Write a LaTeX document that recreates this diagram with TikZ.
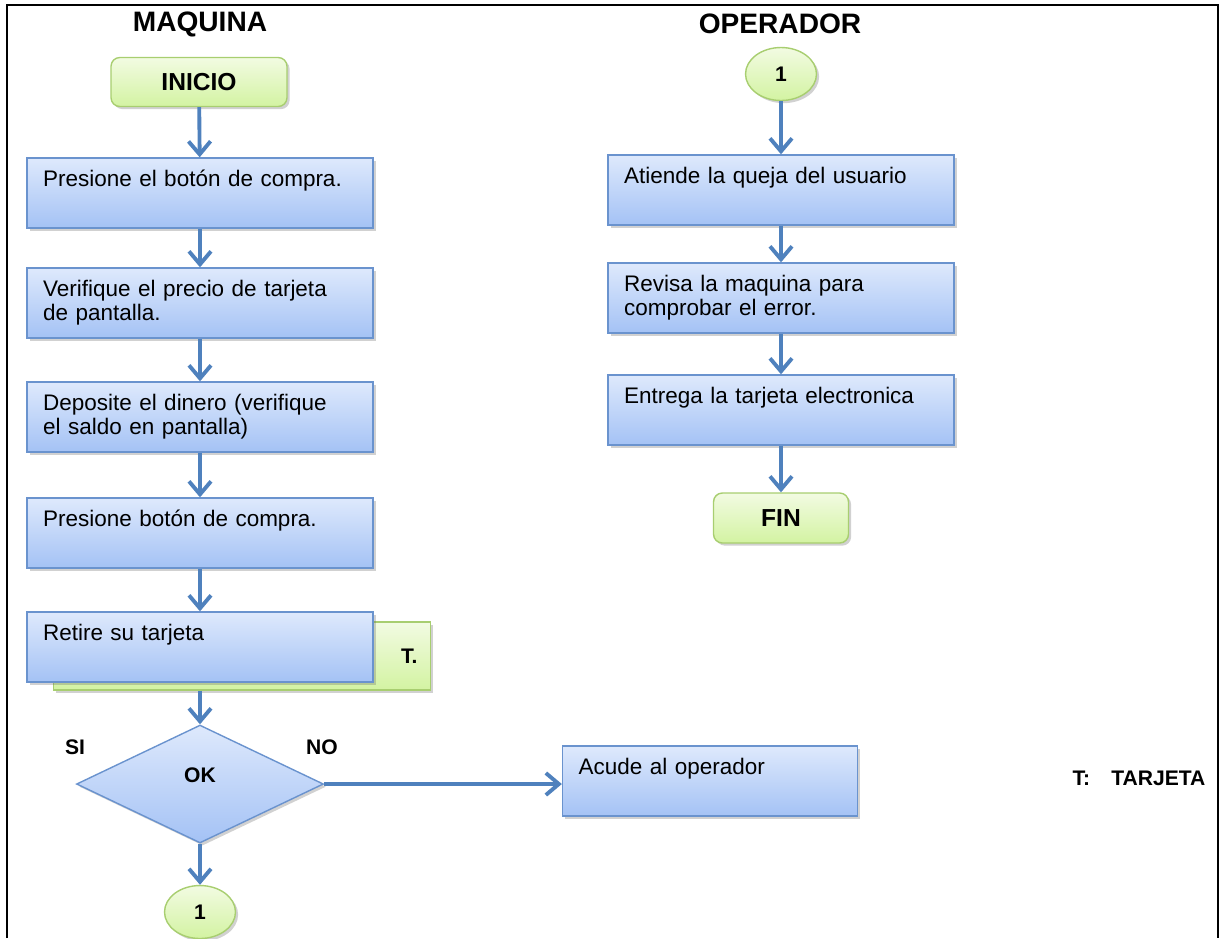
\documentclass[tikz,border=0pt]{standalone}
\usepackage[dvipsnames]{xcolor}
\usepackage{fontspec}
\setmainfont{Liberation Sans}
\usepackage{tikz}
\usetikzlibrary{arrows.meta, shapes.geometric, shadows}
\definecolor{boxtop}{HTML}{DEE9FC}
\definecolor{boxbot}{HTML}{A4C2F5}
\definecolor{boxline}{HTML}{6A93CE}
\definecolor{grntop}{HTML}{F2FBE2}
\definecolor{grnbot}{HTML}{D3F3A2}
\definecolor{grnline}{HTML}{A8CE70}
\definecolor{flowblue}{HTML}{4F81BD}

\begin{document}
\begin{tikzpicture}
[x=0.02cm, y=-0.02cm,
> = {Straight Barb[length=2.6mm, width=4.4mm]},
flow/.style ={->, draw=flowblue, line width=2.2pt},
shade/.style ={drop shadow={shadow xshift=1.5pt, shadow yshift=-1.5pt,
opacity=0.3, fill=black!60}},
block/.style ={rectangle, draw=boxline, thick, shade,
top color=boxtop, bottom color=boxbot,
text width=6.28cm, align=left, inner xsep=0.32cm, inner ysep=0pt,
text height=0.56cm, text depth=0.84cm,
font=\fontsize{12.8}{14.2}\selectfont},
term/.style ={rectangle, rounded corners=5pt, draw=grnline, thick, shade,
top color=grntop, bottom color=grnbot,
font=\fontsize{14}{16}\selectfont\bfseries},
conn/.style ={ellipse, draw=grnline, thick, shade,
top color=grntop, bottom color=grnbot, inner sep=0pt,
minimum width=1.42cm, minimum height=1.06cm,
font=\fontsize{12}{14}\selectfont\bfseries},
title/.style ={font=\fontsize{16}{18}\selectfont\bfseries},
tag/.style ={font=\fontsize{12}{14}\selectfont\bfseries},
]
\useasboundingbox (0,0) rectangle (1222,938);
\draw[line width=0.8pt] (7,938) -- (7,5) -- (1218,5) -- (1218,938);

% titles
\node[title] (tm) at (200,24) {MAQUINA};
\node[title] (to) at (780,24) {OPERADOR};

% maquina
\node[term, minimum width=3.52cm, minimum height=0.98cm] (ini) at (199,82) {INICIO};
\node[block] (p1) at (200,193) {Presione el botón de compra.};
\node[block] (p2) at (200,303) {Verifique el precio de tarjeta\\de pantalla.};
\node[block] (p3) at (200,417) {Deposite el dinero (verifique\\el saldo en pantalla)};
\node[block] (p4) at (200,533) {Presione botón de compra.};
\node[rectangle, draw=grnline, thick, shade, top color=grntop, bottom color=grnbot,
 tag, text width=7.02cm, align=right, inner xsep=0.26cm,
 minimum height=1.36cm] (tg) at (242,656) {T.};
\node[block] (p5) at (200,647) {Retire su tarjeta};
\node[diamond, draw=boxline, thick, shade, top color=boxtop, bottom color=boxbot,
 minimum width=4.94cm, minimum height=2.36cm, inner sep=0pt, tag,
 text height=0.25cm, text depth=0.33cm] (ok) at (200,784) {OK};
\node[tag] (si) at (75,747) {SI};
\node[tag] (no) at (322,747) {NO};
\node[conn] (c1) at (200,912) {1};
\node[block, text width=5.26cm] (ac) at (710,781) {Acude al operador};

% operador
\node[conn] (c2) at (781,74) {1};
\node[block] (at) at (781,190) {Atiende la queja del usuario};
\node[block] (rv) at (781,298) {Revisa la maquina para\\comprobar el error.};
\node[block] (en) at (781,410) {Entrega la tarjeta electronica};
\node[term, minimum width=2.7cm, minimum height=1.0cm] (fin) at (781,518) {FIN};

\node[tag] (ley) at (1139,778) {T:\hspace{1em}TARJETA};

 \draw[flow] (ini) -- (p1);
 \draw[flow] (p1) -- (p2);
 \draw[flow] (p2) -- (p3);
 \draw[flow] (p3) -- (p4);
 \draw[flow] (p4) -- (p5);
 \draw[flow] (ok.north |- tg.south) -- (ok.north);
 \draw[flow] (ok) -- (c1);
 \draw[flow] (ok.east) -- (ok.east -| ac.west);
 \draw[flow] (c2) -- (at);
 \draw[flow] (at) -- (rv);
 \draw[flow] (rv) -- (en);
 \draw[flow] (en) -- (fin);
\end{tikzpicture}
\end{document}
